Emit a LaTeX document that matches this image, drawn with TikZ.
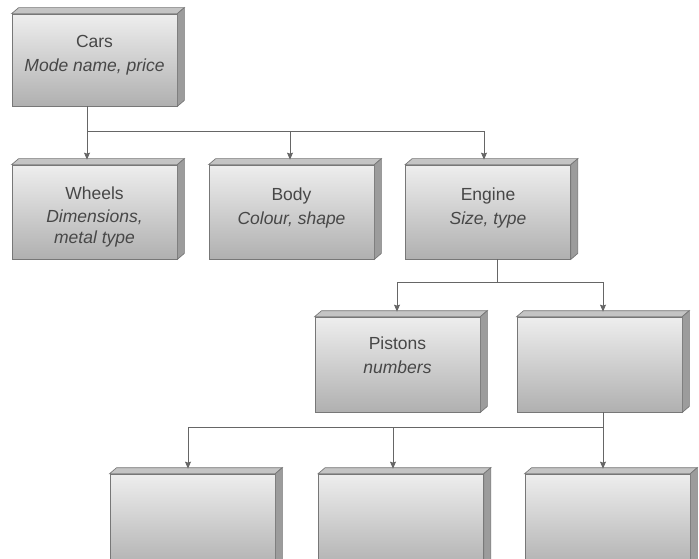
\documentclass[tikz,border=0pt]{standalone}
\usepackage{fontspec}
\setmainfont{Liberation Sans}
\usetikzlibrary{arrows.meta}
\definecolor{inkgray}{HTML}{474747}
\definecolor{wiregray}{HTML}{666666}
\definecolor{edgegray}{HTML}{777777}
\definecolor{facetop}{HTML}{EEEEEE}
\definecolor{facebot}{HTML}{B0B0B0}
\definecolor{lidgray}{HTML}{C4C4C4}
\definecolor{flankgray}{HTML}{9C9C9C}
% a centred block of lines, its height hidden, raised or lowered by #1
\newcommand{\boxlines}[2]{\raisebox{#1}[0pt][0pt]{\begin{tabular}{@{}c@{}}#2\end{tabular}}}
\tikzset{
  slab/.style={draw=edgegray, line width=0.7pt, top color=facetop, bottom color=facebot,
    minimum width=165pt, minimum height=94pt, inner sep=0pt, align=center,
    text=inkgray, font=\fontsize{17.5}{24}\selectfont},
  lid/.style={draw=edgegray, line width=0.7pt, fill=lidgray},
  flank/.style={draw=edgegray, line width=0.7pt, fill=flankgray},
  wire/.style={draw=wiregray, line width=0.8pt},
  feed/.style={wire, -{Stealth[length=7pt,width=6pt,inset=1pt]}},
}
\begin{document}
\begin{tikzpicture}[x=1pt, y=-1pt]
  \useasboundingbox (0,0) rectangle (699,559);
  \clip (0,0) rectangle (699,559);

  % front faces
  \node[slab, minimum height=92pt] (cars)   at (94.5, 60)  {\boxlines{1pt}{Cars\\\textit{Mode name, price}}};
  \node[slab] (wheels)  at (94.5, 212)  {\boxlines{-9pt}{Wheels\\[-1pt]\textit{Dimensions,}\\[-3pt]\textit{metal type}}};
  \node[slab] (body)    at (291.5, 212) {\boxlines{0pt}{Body\\\textit{Colour, shape}}};
  \node[slab] (engine)  at (488, 212)   {\boxlines{0pt}{Engine\\\textit{Size, type}}};
  \node[slab, minimum height=95pt] (pistons) at (397.5, 364.5) {\boxlines{3pt}{Pistons\\\textit{numbers}}};
  \node[slab, minimum height=95pt] (part)    at (599.5, 364.5) {};
  \node[slab, minimum height=95pt] (sub1)    at (192.5, 521.5) {};
  \node[slab, minimum height=95pt] (sub2)    at (401, 521.5)   {};
  \node[slab, minimum height=95pt] (sub3)    at (607.5, 521.5) {};

  % top and side faces giving each box its depth
  \foreach \n in {cars,wheels,body,engine,pistons,part,sub1,sub2,sub3} {
    \filldraw[lid] (\n.north west) -- ++(7,-6) -- ([shift={(7,-6)}]\n.north east) -- (\n.north east) -- cycle;
    \filldraw[flank] (\n.north east) -- ++(7,-6) -- ([shift={(7,-6)}]\n.south east) -- (\n.south east) -- cycle;
  }

  % Cars to its three parts
  \coordinate (bus1) at (87,131);
  \draw[wire] (bus1 |- cars.south) -- (bus1);
  \draw[feed] (bus1) -- ([yshift=5pt]bus1 |- wheels.north);
  \draw[feed] (bus1) -| ([xshift=-1.5pt,yshift=5pt]body.north);
  \draw[feed] (bus1) -| ([xshift=-4pt,yshift=5pt]engine.north);

  % Engine to its parts
  \coordinate (bus2) at (497,282);
  \draw[wire] (bus2 |- engine.south) -- (bus2);
  \draw[feed] (bus2) -| ([xshift=-0.5pt,yshift=5pt]pistons.north);
  \draw[feed] (bus2) -| ([xshift=3.5pt,yshift=5pt]part.north);

  % unnamed part to its sub-parts
  \coordinate (bus3) at (603,427);
  \draw[wire] (bus3 |- part.south) -- (bus3);
  \draw[feed] (bus3) -| ([xshift=-4.5pt,yshift=5pt]sub1.north);
  \draw[feed] (bus3) -| ([xshift=-8pt,yshift=5pt]sub2.north);
  \draw[feed] (bus3) -- ([yshift=5pt]bus3 |- sub3.north);
\end{tikzpicture}
\end{document}
